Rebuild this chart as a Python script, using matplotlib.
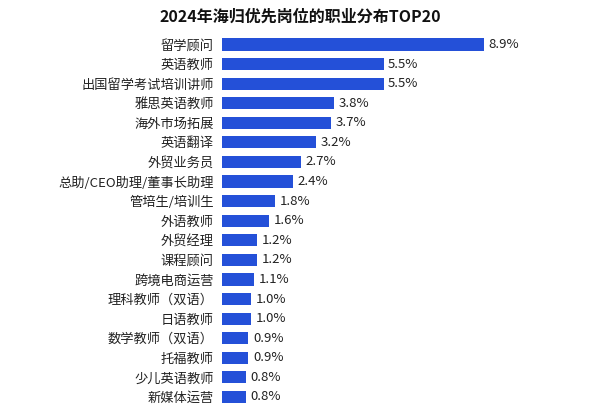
import matplotlib
matplotlib.use("Agg")
import matplotlib.pyplot as plt
from matplotlib import font_manager as fm

categories = ["留学顾问","英语教师","出国留学考试培训讲师","雅思英语教师","海外市场拓展","英语翻译","外贸业务员",
              "总助/CEO助理/董事长助理","管培生/培训生","外语教师","外贸经理","课程顾问","跨境电商运营",
              "理科教师（双语）","日语教师","数学教师（双语）","托福教师","少儿英语教师","新媒体运营"]
values = [8.9,5.5,5.5,3.8,3.7,3.2,2.7,2.4,1.8,1.6,1.2,1.2,1.1,1.0,1.0,0.9,0.9,0.8,0.8]
title = "2024年海归优先岗位的职业分布TOP20"

names = sorted({f.name for f in fm.fontManager.ttflist if "CJK" in f.name})
pref = [n for n in ["Noto Sans CJK SC", "Noto Sans CJK JP", "Noto Sans CJK TC", "Noto Sans CJK KR"] if n in names]
fam = pref[0] if pref else (names[0] if names else "DejaVu Sans")
plt.rcParams["font.family"] = [fam, "DejaVu Sans"]

fig = plt.figure(figsize=(6, 4.08), dpi=100)
ax = fig.add_axes([0.37, 0.003, 0.5, 0.912])
y = list(range(len(categories)))
ax.barh(y, values, height=0.62, color="#2450d8")
ax.set_ylim(len(categories) - 0.5, -0.5)
ax.set_xlim(0, 10.2)
for yi, v in zip(y, values):
    ax.text(v + 0.15, yi, f"{v}%", va="center", ha="left", fontsize=9.5, color="#222222")
ax.set_yticks(y)
ax.set_yticklabels(categories, fontsize=9.5, color="#222222")
ax.tick_params(axis="y", length=0, pad=6)
ax.set_xticks([])
for s in ax.spines.values():
    s.set_visible(False)
fig.text(0.5, 0.96, title, ha="center", va="center", fontsize=11.5, fontweight="bold", color="#111111")
fig.savefig("out.png")
